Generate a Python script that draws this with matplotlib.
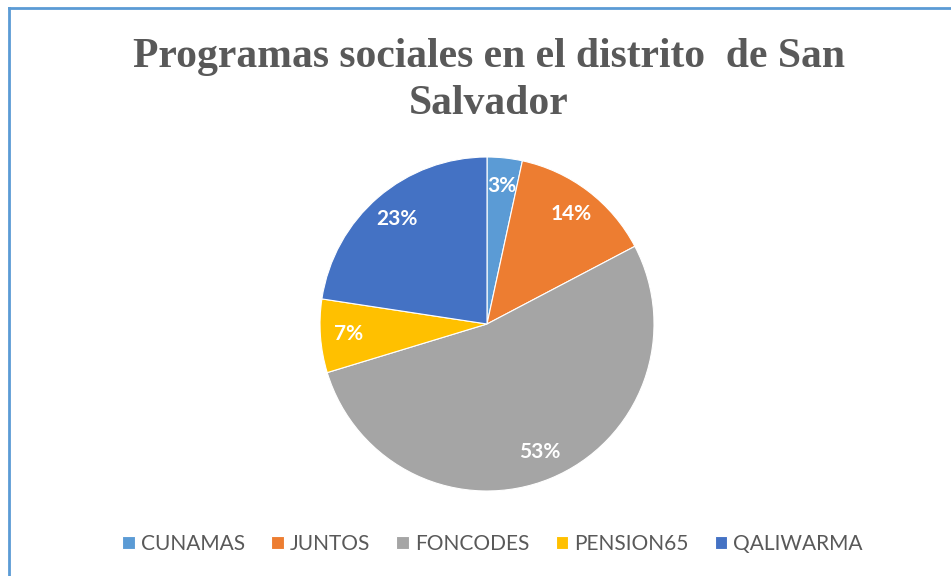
import matplotlib.pyplot as plt
from matplotlib.lines import Line2D

# data
programas = ['CUNAMAS', 'JUNTOS', 'FONCODES', 'PENSION65', 'QALIWARMA']
porcentajes = [3.4, 13.9, 53.0, 7.1, 22.6]
colores = ['#5B9BD5', '#ED7D31', '#A5A5A5', '#FFC000', '#4472C4']

fig = plt.figure(figsize=(9.51, 5.76), dpi=100)

# chart border (only top and left visible)
W, H = 951, 576
fig.add_artist(Line2D([9 / W, 9 / W], [0, 1 - 8 / H], color='#5B9BD5', lw=2))
fig.add_artist(Line2D([9 / W, 1], [1 - 8 / H, 1 - 8 / H], color='#5B9BD5', lw=2))

# pie, center ~ (487, 324), radius ~167 px
r = 167
cx, cy = 487, 324
ax = fig.add_axes([(cx - r) / W, (H - cy - r) / H, 2 * r / W, 2 * r / H])
wedges, texts, autotexts = ax.pie(
    porcentajes, colors=colores, startangle=90, counterclock=False,
    autopct='%.0f%%', pctdistance=0.83, radius=1,
    wedgeprops=dict(linewidth=0.8, edgecolor='white'),
    textprops=dict(color='white', fontsize=15, fontweight='bold', family='Lato'))
ax.set_xlim(-1, 1)
ax.set_ylim(-1, 1)
ax.set_aspect('equal')

fig.text(489 / W, 1 - 57 / H, 'Programas sociales en el distrito  de San', ha='center', va='center',
         fontsize=30, fontweight='bold', family='Liberation Serif', color='#595959')
fig.text(489 / W, 1 - 104 / H, 'Salvador', ha='center', va='center',
         fontsize=30, fontweight='bold', family='Liberation Serif', color='#595959')

fig.legend(wedges, programas, loc='center', bbox_to_anchor=(0.518, 1 - 544 / H), ncol=5,
           frameon=False, handlelength=0.6, handleheight=0.6, handletextpad=0.3,
           columnspacing=1.25, prop=dict(family='Lato', size=15), labelcolor='#595959')

fig.savefig('out.png', dpi=100)
